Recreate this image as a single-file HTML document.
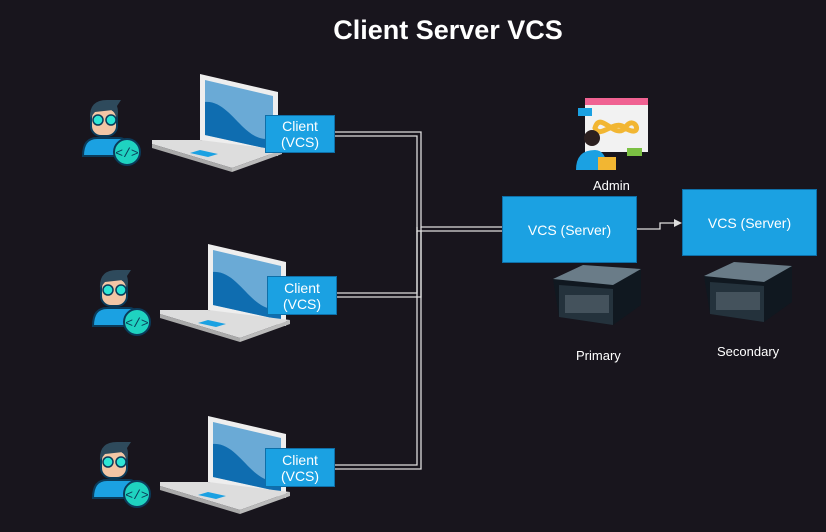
<!DOCTYPE html>
<html><head><meta charset="utf-8"><style>
html,body{margin:0;padding:0;background:#18151d;}
body{width:826px;height:532px;position:relative;overflow:hidden;font-family:"Liberation Sans",Arial,sans-serif;}
.t{position:absolute;color:#fff;}
.box{position:absolute;background:#1ba1e2;border:1px solid #0e6fa8;color:#fff;font-size:14px;display:flex;align-items:center;justify-content:center;text-align:center;line-height:16px;box-sizing:border-box;}
</style></head><body>
<div class="t" style="left:0;width:896px;top:15px;font-size:27px;font-weight:bold;text-align:center;">Client Server VCS</div>
<svg width="826" height="532" style="position:absolute;left:0;top:0">
<defs>
<g id="lap">
<polygon points="48,0 126,18 126,82 48,66" fill="#eee" />
<polygon points="53,6 121,22 121,76 53,61" fill="#6aaad6"/>
<path d="M53,28 C80,26 92,72 121,64 L121,76 L53,61Z" fill="#0f6db0"/>
<polygon points="0,66 48,66 130,76 80,94 0,70" fill="#ddd"/>
<polygon points="0,70 80,94 80,98 0,74" fill="#aaa"/>
<polygon points="130,76 80,94 80,98 130,80" fill="#bbb"/>
<polygon points="48,76 66,80 56,83 38,79" fill="#1ba1e2"/>
</g>
<g id="dev">
<path d="M0,58 Q0,40 14,40 L36,40 Q46,40 46,58Z" fill="#1ba1e2" stroke="#0b3b5a" stroke-width="2"/>
<rect x="8" y="10" width="26" height="28" rx="10" fill="#f3c6a5" stroke="#0b3b5a" stroke-width="2"/>
<path d="M7,20 Q6,2 24,2 L38,2 L34,8 Q36,14 34,20 L30,12 L12,14Z" fill="#2e4a5c"/>
<circle cx="15" cy="22" r="5" fill="#2ee6d6" stroke="#0b3b5a" stroke-width="1.5"/>
<circle cx="28" cy="22" r="5" fill="#2ee6d6" stroke="#0b3b5a" stroke-width="1.5"/>
<circle cx="44" cy="54" r="13" fill="#1fd3c0" stroke="#0b3b5a" stroke-width="2"/>
<text x="44" y="59" font-size="13" text-anchor="middle" fill="#0b3b5a" font-family="Liberation Mono">&lt;/&gt;</text>
</g>
<g id="srv">
<polygon points="0,14 30,0 88,4 88,40 60,60 6,52" fill="#101820"/>
<polygon points="0,14 30,0 88,4 60,20" fill="#6a7c88"/>
<polygon points="6,20 60,24 60,60 6,52" fill="#24323c"/>
<rect x="12" y="30" width="44" height="18" fill="#44525c"/>
</g>
</defs>
<use href="#lap" x="152" y="74"/>
<use href="#lap" x="160" y="244"/>
<use href="#lap" x="160" y="416"/>
<use href="#dev" x="83" y="98"/>
<use href="#dev" x="93" y="268"/>
<use href="#dev" x="93" y="440"/>
<use href="#srv" x="553" y="265"/>
<use href="#srv" x="704" y="262"/>
<g fill="none" stroke="#ddd" stroke-width="1.3">
<polyline points="335,132 421,132 421,227 502,227"/>
<polyline points="335,136 417,136 417,231 502,231"/>
<polyline points="337,293 417,293 417,227"/>
<polyline points="337,297 421,297 421,231"/>
<polyline points="335,465 417,465 417,231"/>
<polyline points="335,469 421,469 421,227"/>
<polyline points="637,229 660,229 660,223 676,223"/>
</g>
<polygon points="682,223 674,219 674,227" fill="#ddd"/>
<rect x="585" y="98" width="63" height="54" fill="#f2f2f2"/>
<rect x="585" y="98" width="63" height="7" fill="#f06292"/>
<path d="M595,128 C600,110 615,140 625,128 C635,112 645,140 625,128 C615,118 600,140 595,128Z" fill="none" stroke="#f2b632" stroke-width="5"/>
<rect x="578" y="108" width="14" height="8" fill="#1ba1e2"/>
<rect x="627" y="148" width="15" height="8" fill="#7bc043"/>
<path d="M576,170 Q576,150 595,150 Q606,150 608,170Z" fill="#1ba1e2"/>
<circle cx="592" cy="138" r="8" fill="#2b1f1f"/>
<rect x="598" y="157" width="18" height="13" fill="#f2b632"/>
</svg>
<div class="box" style="left:265px;top:115px;width:70px;height:38px;">Client<br>(VCS)</div>
<div class="box" style="left:267px;top:276px;width:70px;height:39px;">Client<br>(VCS)</div>
<div class="box" style="left:265px;top:448px;width:70px;height:39px;">Client<br>(VCS)</div>
<div class="box" style="left:502px;top:196px;width:135px;height:67px;">VCS (Server)</div>
<div class="box" style="left:682px;top:189px;width:135px;height:67px;">VCS (Server)</div>
<div class="t" style="left:593px;top:178px;font-size:13px;">Admin</div>
<div class="t" style="left:576px;top:348px;font-size:13px;">Primary</div>
<div class="t" style="left:717px;top:344px;font-size:13px;">Secondary</div>
</body></html>
